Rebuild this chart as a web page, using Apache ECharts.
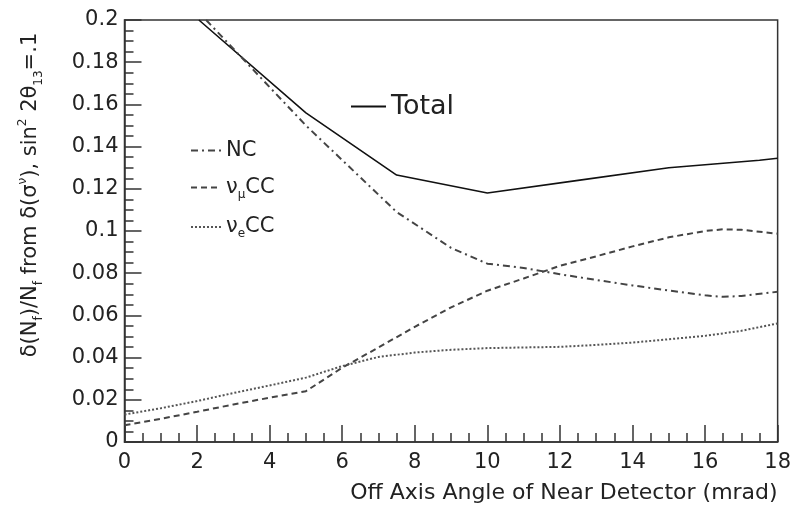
<!DOCTYPE html>
<html>
<head>
<meta charset="utf-8">
<script src="https://cdn.jsdelivr.net/npm/echarts@6/dist/echarts.min.js"></script>
<style>html,body{margin:0;padding:0;background:#fff;}#c{width:794px;height:505px;}</style>
</head>
<body>
<div id="c"></div>
<script>
// Data
var totalX = [2.05, 5, 7.5, 10, 12.5, 15, 17.5, 18];
var totalY = [0.2, 0.156, 0.1265, 0.118, 0.124, 0.130, 0.1335, 0.1345];

var ncX = [2.25, 5, 7.5, 9, 10, 11, 12, 13, 14, 15, 16, 16.5, 17, 18];
var ncY = [0.2, 0.150, 0.109, 0.092, 0.0845, 0.0825, 0.0795, 0.0768, 0.0742, 0.0718, 0.0695, 0.0688, 0.0692, 0.0712];

var numuX = [0, 1, 2, 3, 4, 5, 6, 7, 8, 9, 10, 11, 12, 13, 14, 15, 16, 16.5, 17, 18];
var numuY = [0.0079, 0.011, 0.0143, 0.0178, 0.021, 0.0241, 0.0352, 0.0448, 0.0546, 0.0638, 0.0717, 0.0775, 0.0835, 0.088, 0.0927, 0.097, 0.100, 0.1008, 0.1006, 0.0987];

var nueX = [0, 1, 2, 3, 4, 5, 6, 7, 8, 9, 10, 11, 12, 13, 14, 15, 16, 17, 18];
var nueY = [0.013, 0.016, 0.0194, 0.0232, 0.0268, 0.0305, 0.036, 0.0403, 0.0424, 0.0437, 0.0445, 0.0448, 0.0451, 0.046, 0.0471, 0.0487, 0.0503, 0.0527, 0.0562];

var seriesNames = ['Total', 'NC', 'numuCC', 'nueCC'];
var xTitle = 'Off Axis Angle of Near Detector (mrad)';

function pairs(xs, ys) { return xs.map(function (x, i) { return [x, ys[i]]; }); }

var FONT = 'DejaVu Sans';
var TXT = '#222';
var chart = echarts.init(document.getElementById('c'), null, {renderer: 'canvas'});

var rich = {
  n: {fontSize: 21, fontFamily: FONT, color: TXT, lineHeight: 26, verticalAlign: 'middle'},
  s: {fontSize: 12, fontFamily: FONT, color: TXT, lineHeight: 26, verticalAlign: 'bottom'},
  p: {fontSize: 12, fontFamily: FONT, color: TXT, lineHeight: 26, verticalAlign: 'top'}
};
var yRich = {
  n: {fontSize: 21, fontFamily: FONT, color: TXT, lineHeight: 28, verticalAlign: 'middle'},
  s: {fontSize: 12, fontFamily: FONT, color: TXT, lineHeight: 28, verticalAlign: 'bottom'},
  p: {fontSize: 12, fontFamily: FONT, color: TXT, lineHeight: 28, verticalAlign: 'top'}
};

var option = {
  backgroundColor: '#fff',
  animation: false,
  grid: {left: 124.5, right: 14, top: 20, bottom: 63, show: true, borderColor: '#333', borderWidth: 1.5, backgroundColor: 'transparent'},
  legend: [
    {
      data: ['Total'], left: 345, top: 88, itemWidth: 35, itemHeight: 14,
      itemStyle: {opacity: 0},
      textStyle: {fontSize: 27, fontFamily: FONT, color: TXT}, itemGap: 10, selectedMode: false
    },
    {
      data: ['NC', 'numuCC', 'nueCC'], orient: 'vertical', left: 185, top: 135,
      itemWidth: 30, itemHeight: 14, itemGap: 16, selectedMode: false,
      itemStyle: {opacity: 0},
      textStyle: {rich: rich, fontSize: 21, fontFamily: FONT, color: TXT},
      formatter: function (name) {
        if (name === 'NC') return '{n|NC}';
        if (name === 'numuCC') return '{n|ν}{s|μ}{n|CC}';
        return '{n|ν}{s|e}{n|CC}';
      }
    }
  ],
  xAxis: {
    type: 'value', min: 0, max: 18, interval: 2,
    name: xTitle, nameLocation: 'end', nameGap: 0,
    nameTextStyle: {fontSize: 22, fontFamily: FONT, color: TXT, align: 'right', verticalAlign: 'top', padding: [40, 0, 0, 0]},
    axisLine: {show: true, lineStyle: {color: '#333', width: 1.5}},
    axisTick: {show: true, inside: true, length: 17, lineStyle: {color: '#333', width: 1.5}},
    minorTick: {show: true, splitNumber: 4, length: 9, lineStyle: {color: '#333', width: 1.5}},
    axisLabel: {fontSize: 21, fontFamily: FONT, color: TXT, margin: 10},
    splitLine: {show: false}
  },
  yAxis: {
    type: 'value', min: 0, max: 0.2, interval: 0.02,
    name: '{n|δ(N}{s|f}{n|)/N}{s|f}{n| from δ(σ}{p|ν}{n|), sin}{p|2}{n| 2θ}{s|13}{n|=.1}',
    nameLocation: 'middle', nameGap: 80, nameRotate: 90,
    nameTextStyle: {rich: yRich, padding: [0, 0, 0, 72]},
    axisLine: {show: true, lineStyle: {color: '#333', width: 1.5}},
    axisTick: {show: true, inside: true, length: 17, lineStyle: {color: '#333', width: 1.5}},
    minorTick: {show: true, splitNumber: 4, length: 9, lineStyle: {color: '#333', width: 1.5}},
    axisLabel: {fontSize: 21, fontFamily: FONT, color: TXT, margin: 6,
      formatter: function (v) { return String(+v.toFixed(2)); }},
    splitLine: {show: false}
  },
  series: [
    {name: 'Total', type: 'line', symbol: 'none', data: pairs(totalX, totalY), clip: true,
      lineStyle: {color: '#111', width: 1.6, type: 'solid'}, itemStyle: {color: '#111'}},
    {name: 'NC', type: 'line', symbol: 'none', data: pairs(ncX, ncY), clip: true,
      lineStyle: {color: '#444', width: 2, type: [7, 4, 2, 4]}, itemStyle: {color: '#444'}},
    {name: 'numuCC', type: 'line', symbol: 'none', data: pairs(numuX, numuY), clip: true,
      lineStyle: {color: '#444', width: 2, type: [6, 4]}, itemStyle: {color: '#444'}},
    {name: 'nueCC', type: 'line', symbol: 'none', data: pairs(nueX, nueY), clip: true,
      lineStyle: {color: '#555', width: 2, type: [2, 2]}, itemStyle: {color: '#555'}}
  ]
};
chart.setOption(option);
</script>
</body>
</html>
